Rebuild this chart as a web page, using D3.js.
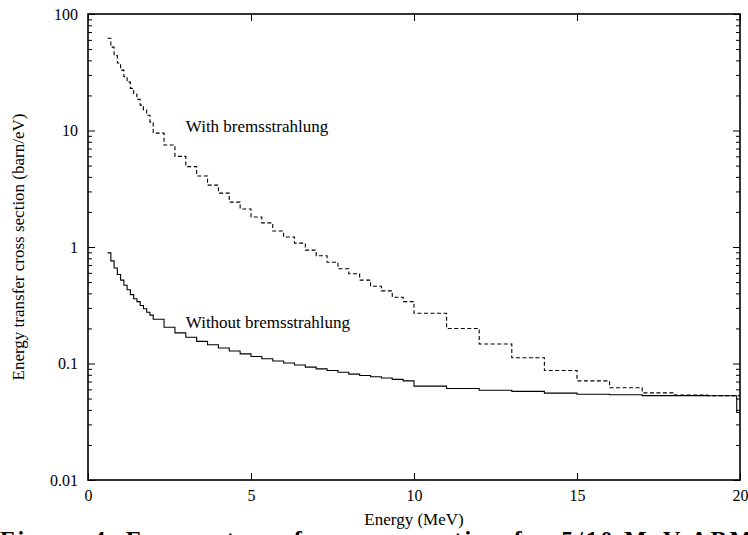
<!DOCTYPE html>
<html>
<head>
<meta charset="utf-8">
<script src="https://cdn.jsdelivr.net/npm/d3@7"></script>
<style>
  body { margin: 0; background: #fff; }
  svg { display: block; font-family: "Liberation Serif", "DejaVu Serif", serif; }
</style>
</head>
<body>
<svg id="chart"></svg>
<script>
// bin lower edges (MeV), last entry closes the last bin
const binEdges = [0.6, 0.7, 0.8, 0.9, 1.0, 1.1, 1.2, 1.3, 1.4, 1.5, 1.6, 1.7, 1.8, 1.9,
  2.0, 2.333, 2.667, 3.0, 3.333, 3.667, 4.0, 4.333, 4.667, 5.0, 5.333, 5.667,
  6.0, 6.333, 6.667, 7.0, 7.333, 7.667, 8.0, 8.333, 8.667, 9.0, 9.333, 9.667,
  10, 11, 12, 13, 14, 15, 16, 17, 18, 19, 20];

// with bremsstrahlung (barn/eV)
const withBrems = [62, 52, 44, 38, 33, 29, 26, 23, 20.5, 18.5, 16.5, 15, 13.5, 11.8,
  9.5, 7.5, 6.0, 4.9, 4.07, 3.4, 2.9, 2.43, 2.12, 1.81, 1.61, 1.37,
  1.22, 1.08, 0.94, 0.84, 0.74, 0.65, 0.59, 0.52, 0.46, 0.42, 0.37, 0.34,
  0.27, 0.20, 0.147, 0.112, 0.087, 0.071, 0.062, 0.056, 0.0535, 0.053];

// without bremsstrahlung (barn/eV)
const withoutBrems = [0.89, 0.76, 0.66, 0.58, 0.52, 0.47, 0.43, 0.39, 0.36, 0.34, 0.315, 0.295, 0.275, 0.26,
  0.24, 0.205, 0.183, 0.168, 0.155, 0.145, 0.136, 0.128, 0.121, 0.115, 0.110, 0.105,
  0.101, 0.097, 0.093, 0.090, 0.087, 0.084, 0.081, 0.079, 0.077, 0.075, 0.073, 0.071,
  0.064, 0.061, 0.059, 0.0576, 0.0557, 0.0545, 0.054, 0.053, 0.053, 0.0528];
// last narrow bin of the solid curve at 20 MeV
const tailEdges = [19.9, 20];
const tailValue = [0.038];

const xTicks = [0, 5, 10, 15, 20];
const yTicks = [0.01, 0.1, 1, 10, 100];
const yTickLabels = ["0.01", "0.1", "1", "10", "100"];
const yMinor = [0.02,0.03,0.04,0.05,0.06,0.07,0.08,0.09, 0.2,0.3,0.4,0.5,0.6,0.7,0.8,0.9,
  2,3,4,5,6,7,8,9, 20,30,40,50,60,70,80,90];

const width = 748, height = 535;
const marginLeft = 88, marginRight = 8, marginTop = 14, marginBottom = 55;

const svg = d3.select('#chart')
  .attr('width', width)
  .attr('height', height)
  .attr('viewBox', [0, 0, width, height]);

const x = d3.scaleLinear().domain([0, 20]).range([marginLeft, width - marginRight]);
const y = d3.scaleLog().domain([0.01, 100]).range([height - marginBottom, marginTop]);

// series -> step points (repeat last value at closing edge)
function stepPoints(edges, vals) {
  let pts = vals.map((v, i) => [edges[i], v]);
  pts.push([edges[edges.length - 1], vals[vals.length - 1]]);
  return pts;
}
const line = d3.line()
  .x(d => x(d[0]))
  .y(d => y(d[1]))
  .curve(d3.curveStepAfter);

let solidPts = stepPoints(binEdges, withoutBrems);
solidPts.pop();
solidPts = solidPts.concat(stepPoints(tailEdges, tailValue));

svg.append('path')
  .attr('d', line(solidPts))
  .attr('fill', 'none')
  .attr('stroke', '#000')
  .attr('stroke-width', 1.1);

svg.append('path')
  .attr('d', line(stepPoints(binEdges, withBrems)))
  .attr('fill', 'none')
  .attr('stroke', '#000')
  .attr('stroke-width', 1.1)
  .attr('stroke-dasharray', '4,2.5');

// axes, ticks pointing inwards
const fontSize = '16px';
const labelSize = '17px';
svg.append('g')
  .attr('transform', `translate(${marginLeft},0)`)
  .call(d3.axisLeft(y).tickValues(yTicks).tickFormat((d, i) => yTickLabels[i]).tickSize(-7).tickPadding(10))
  .call(g => g.selectAll('text').style('font-size', fontSize).style('font-family', 'Liberation Serif').attr('fill', '#000'));
svg.append('g')
  .attr('transform', `translate(${marginLeft},0)`)
  .call(d3.axisLeft(y).tickValues(yMinor).tickFormat('').tickSize(-4));
svg.append('g')
  .attr('transform', `translate(${width - marginRight},0)`)
  .call(d3.axisRight(y).tickValues(yTicks).tickFormat('').tickSize(-7));
svg.append('g')
  .attr('transform', `translate(${width - marginRight},0)`)
  .call(d3.axisRight(y).tickValues(yMinor).tickFormat('').tickSize(-4));
svg.append('g')
  .attr('transform', `translate(0,${height - marginBottom})`)
  .call(d3.axisBottom(x).tickValues(xTicks).tickSize(-7).tickPadding(10))
  .call(g => g.selectAll('text').style('font-size', fontSize).style('font-family', 'Liberation Serif').attr('fill', '#000'));
svg.append('g')
  .attr('transform', `translate(0,${marginTop})`)
  .call(d3.axisTop(x).tickValues(xTicks).tickFormat('').tickSize(-7));

svg.selectAll('.domain').remove();
svg.selectAll('.tick line').attr('stroke', '#000').attr('stroke-width', 1);

// frame
svg.append('rect')
  .attr('x', marginLeft).attr('y', marginTop)
  .attr('width', width - marginRight - marginLeft)
  .attr('height', height - marginBottom - marginTop)
  .attr('fill', 'none').attr('stroke', '#000').attr('stroke-width', 1.6);

// curve labels
svg.append('text').attr('x', x(3)).attr('y', y(9.7)).text('With bremsstrahlung')
  .style('font-size', labelSize);
svg.append('text').attr('x', x(3)).attr('y', y(0.2)).text('Without bremsstrahlung')
  .style('font-size', labelSize);

// axis titles
svg.append('text')
  .attr('x', x(10)).attr('y', 525)
  .attr('text-anchor', 'middle')
  .style('font-size', labelSize)
  .text('Energy (MeV)');
svg.append('text')
  .attr('transform', `translate(24,${y(1)}) rotate(-90)`)
  .attr('text-anchor', 'middle')
  .style('font-size', labelSize)
  .text('Energy transfer cross section (barn/eV)');

// caption, cut off by the bottom edge like in the scanned page
svg.append('text')
  .attr('x', 0).attr('y', 547)
  .attr('textLength', 752)
  .attr('lengthAdjust', 'spacing')
  .style('font-size', '24px')
  .style('font-weight', 'bold')
  .text('Figure 4. Energy transfer cross section for 5/10 MeV ABM');
</script>
</body>
</html>
